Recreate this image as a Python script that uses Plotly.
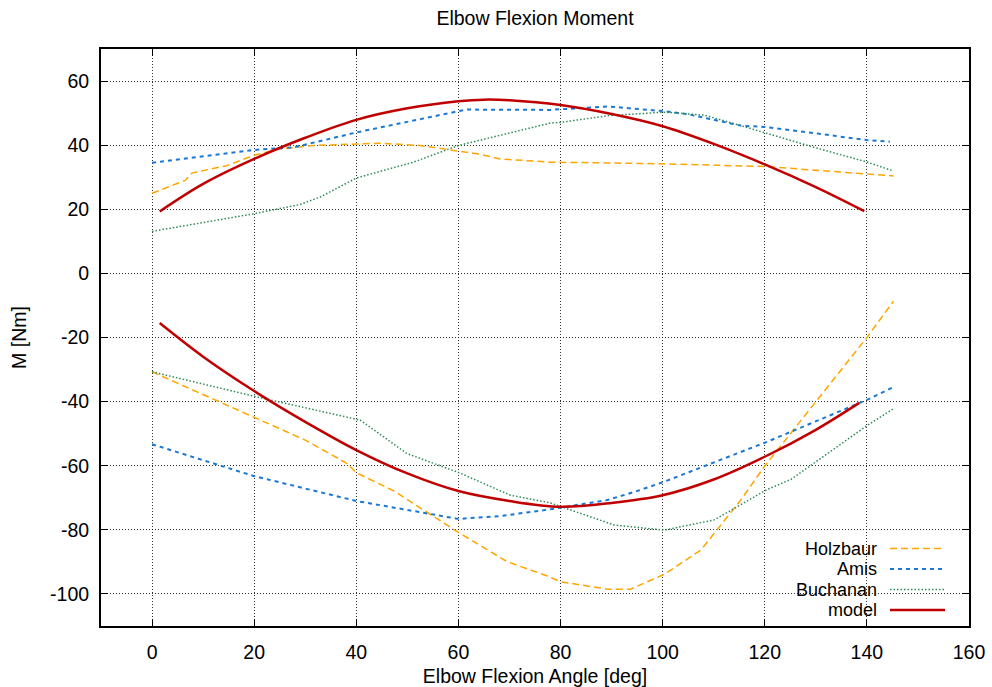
import plotly.graph_objects as go

# ---- data ----
holz_flex_x = [0, 6.5, 7.8, 14.6, 19.9, 25, 31.6, 40.8, 44.7, 52.5, 60, 63.7, 68.2, 78, 100, 120.5, 140, 145.2]
holz_flex_y = [25.0, 29.0, 31.3, 33.6, 36.8, 38.8, 39.9, 40.4, 40.6, 39.9, 38.3, 37.3, 35.7, 34.7, 34.2, 33.3, 31.0, 30.4]
holz_ext_x = [0, 19.9, 30, 38.2, 40, 47.3, 60, 69.5, 77.4, 80, 89.2, 93.7, 100.3, 107.5, 115.3, 119.9, 140.1, 145.2]
holz_ext_y = [-30.7, -44.8, -52.0, -59.3, -62.2, -67.8, -80.8, -89.9, -94.4, -96.2, -98.5, -98.5, -93.9, -86.3, -70.7, -60.3, -19.8, -8.7]

amis_flex_x = [0, 19.9, 27.7, 40.1, 60, 61.7, 78, 89.2, 100.2, 104.8, 115.3, 120.5, 128.4, 140, 144.5]
amis_flex_y = [34.5, 38.5, 39.3, 44.0, 50.6, 51.1, 51.0, 52.1, 50.6, 49.7, 46.1, 45.6, 44.0, 41.6, 41.1]
amis_ext_x = [0, 19.9, 40, 60, 68.2, 78, 89.2, 95, 100.3, 120.5, 140.1, 145]
amis_ext_y = [-53.3, -63.2, -71.0, -76.6, -75.7, -73.6, -70.7, -67.9, -65.0, -52.5, -39.4, -35.6]

buch_flex_x = [0, 19.9, 29, 32.9, 40.1, 51.2, 60, 78, 80, 89.2, 100.3, 108.1, 115.3, 128.4, 140.1, 144.9]
buch_flex_y = [13.1, 18.6, 21.5, 23.8, 29.8, 34.7, 39.9, 46.9, 47.1, 49.2, 50.3, 49.4, 46.1, 39.9, 34.7, 32.1]
buch_ext_x = [0, 19.9, 40.8, 49.9, 60, 70.2, 78, 90.5, 100.3, 110.1, 120.5, 125.1, 140.1, 145.2]
buch_ext_y = [-30.7, -38.3, -45.8, -56.2, -62.1, -69.2, -71.6, -78.5, -80.1, -76.9, -67.4, -64.3, -47.4, -42.2]

model_x = [1.5, 10, 20, 30, 40, 50, 60, 65, 70, 80, 90, 100, 110, 120, 130, 139.5]
model_flex_y = [19.3, 27.9, 35.7, 42.3, 47.9, 51.5, 53.7, 54.2, 54.0, 52.5, 49.7, 45.9, 40.4, 34.0, 26.9, 19.4]
model_ext_x = [1.5, 10, 20, 30, 40, 50, 60, 70, 80, 90, 100, 110, 120, 130, 138.5]
model_ext_y = [-15.5, -26.0, -36.7, -46.3, -55.1, -62.4, -67.9, -71.0, -72.8, -71.6, -69.2, -64.3, -57.2, -48.8, -40.4]

series_names = ["Holzbaur", "Amis", "Buchanan", "model"]
x_ticks = [0, 20, 40, 60, 80, 100, 120, 140, 160]
y_ticks = [60, 40, 20, 0, -20, -40, -60, -80, -100]

FONT = "Liberation Sans, Arial, sans-serif"
FS = 19.5
LEG_FS = 18

styles = {
    "Holzbaur": dict(color="#ffa500", width=1.5, dash="7px,4px"),
    "Amis": dict(color="#1a78d4", width=2, dash="4px,4px"),
    "Buchanan": dict(color="#2e8b57", width=1.5, dash="1.5px,2px"),
    "model": dict(color="#c00000", width=2.5, dash="solid"),
}

data = {
    "Holzbaur": [(holz_flex_x, holz_flex_y), (holz_ext_x, holz_ext_y)],
    "Amis": [(amis_flex_x, amis_flex_y), (amis_ext_x, amis_ext_y)],
    "Buchanan": [(buch_flex_x, buch_flex_y), (buch_ext_x, buch_ext_y)],
    "model": [(model_x, model_flex_y), (model_ext_x, model_ext_y)],
}

fig = go.Figure()
for name in series_names:
    for xs, ys in data[name]:
        fig.add_trace(go.Scatter(
            x=xs, y=ys, mode="lines", name=name, legendgroup=name, showlegend=False,
            line=dict(shape="spline" if name == "model" else "linear", **styles[name]),
        ))

# gnuplot-style legend (text right-aligned, sample to the right)
L, R, T, B = 101, 969, 49, 626
W, H = R - L, B - T
rows = [548.5, 569, 589.5, 610]
for name, py in zip(series_names, rows):
    yp = (B - py) / H
    fig.add_annotation(xref="paper", yref="paper", x=(878 - L) / W, y=yp, text=name,
                       showarrow=False, xanchor="right", yanchor="middle", borderpad=0,
                       font=dict(family=FONT, size=LEG_FS, color="black"))
    st = styles[name]
    fig.add_shape(type="line", xref="paper", yref="paper",
                  x0=(890 - L) / W, x1=(945 - L) / W, y0=yp, y1=yp,
                  line=dict(color=st["color"], width=st["width"], dash=st["dash"]))

axis_common = dict(
    showline=True, linecolor="black", linewidth=2, mirror="ticks",
    ticks="inside", ticklen=7, tickwidth=1, tickcolor="black",
    showgrid=True, gridcolor="rgba(0,0,0,0.8)", gridwidth=1, griddash="1px,2px",
    zeroline=False, automargin=False,
    tickfont=dict(family=FONT, size=FS, color="black"),
)

fig.update_xaxes(range=[-10, 160], tickvals=x_ticks, ticktext=[str(v) for v in x_ticks],
                 title=dict(text="Elbow Flexion Angle [deg]", font=dict(family=FONT, size=FS, color="black"), standoff=12),
                 ticklabelstandoff=8, **axis_common)
fig.update_yaxes(range=[-110, 70], tickvals=y_ticks, ticktext=[str(v) for v in y_ticks],
                 title=dict(text="M [Nm]", font=dict(family=FONT, size=FS, color="black"), standoff=18),
                 ticklabelstandoff=6, **axis_common)

fig.update_layout(
    width=992, height=687,
    margin=dict(l=L, r=992 - R, t=T, b=687 - B, autoexpand=False),
    paper_bgcolor="white", plot_bgcolor="white",
    title=dict(text="Elbow Flexion Moment", x=(L + R) / 2 / 992, xanchor="center",
               y=1 - 18 / 687, yanchor="middle", yref="container",
               font=dict(family=FONT, size=FS, color="black")),
    font=dict(family=FONT, size=FS, color="black"),
)

fig.write_html("out.html")
